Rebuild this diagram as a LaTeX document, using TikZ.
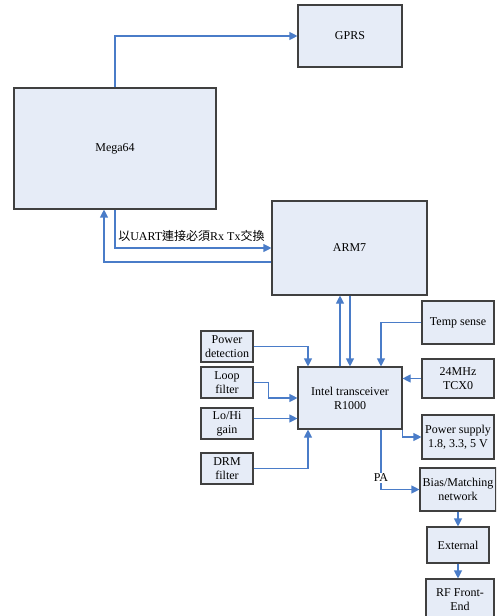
\documentclass[tikz,border=0pt]{standalone}
\usepackage{fontspec}
\setmainfont{Liberation Serif}
\newfontfamily\cjk{Noto Sans CJK TC}
\usetikzlibrary{arrows.meta,calc}
\definecolor{boxfill}{HTML}{E6ECF7}
\definecolor{arrowblue}{HTML}{4A7CC8}
\begin{document}
\begin{tikzpicture}[x=0.75pt,y=-0.75pt,
  box/.style={draw=black!75, fill=boxfill, line width=0.85pt, inner sep=0pt, align=center,
    font=\fontsize{9}{10.5}\selectfont},
  conn/.style={draw=arrowblue, line width=0.85pt, -{Triangle[length=6pt,width=6pt]}}]
\useasboundingbox (0,0) rectangle (496,616);
\begin{scope}
\clip (0,0) rectangle (496,616);
\node[box, minimum width=104*0.75pt, minimum height=62*0.75pt] (gprs) at (350,36) {GPRS};
\node[box, minimum width=202*0.75pt, minimum height=121*0.75pt] (mega) at (115,148.5) {Mega64};
\node[box, minimum width=155*0.75pt, minimum height=94*0.75pt] (arm) at (349.5,248) {ARM7};
\node[box, minimum width=104*0.75pt, minimum height=62*0.75pt] (intel) at (350,398) {Intel transceiver\\R1000};
\node[box, minimum width=72*0.75pt, minimum height=43*0.75pt] (temp) at (458,322.5) {Temp sense};
\node[box, minimum width=72*0.75pt, minimum height=39*0.75pt] (tcx) at (458,378.5) {24MHz\\TCX0};
\node[box, minimum width=72*0.75pt, minimum height=44*0.75pt] (ps) at (458,437) {Power supply\\1.8, 3.3, 5 V};
\node[box, minimum width=76*0.75pt, minimum height=43*0.75pt] (bias) at (458,489.5) {Bias/Matching\\network};
\node[box, minimum width=62*0.75pt, minimum height=36*0.75pt] (ext) at (458,545) {External};
\node[box, minimum width=68*0.75pt, minimum height=42*0.75pt] (rf) at (460,600) {RF Front-\\End};
\node[box, minimum width=52*0.75pt, minimum height=31*0.75pt] (pd) at (227,346.5) {Power\\detection};
\node[box, minimum width=52*0.75pt, minimum height=31*0.75pt] (lf) at (227,382.5) {Loop\\filter};
\node[box, minimum width=52*0.75pt, minimum height=31*0.75pt] (lh) at (227,423.5) {Lo/Hi\\gain};
\node[box, minimum width=52*0.75pt, minimum height=31*0.75pt] (drm) at (227,468.5) {DRM\\filter};

\draw[conn] (mega.north) |- (gprs.west);
\draw[conn] (mega.south) |- (arm.west);
\draw[conn] ($(arm.west)+(0,14)$) -| ($(mega.south)+(-11,0)$);
\node[font=\fontsize{9}{10.5}\selectfont, anchor=west, inner sep=0pt] (uart) at (118,236)
  {{\cjk 以}UART{\cjk 連接必須}Rx Tx{\cjk 交換}};

\draw[conn] ($(intel.north)+(-10,0)$) -- ($(arm.south)+(-9.5,0)$);
\draw[conn] ($(arm.south)+(0.5,0)$) -- (intel.north);
\draw[conn] (temp.west) -| ($(intel.north)+(31,0)$);
\draw[conn] (tcx.west) -- (tcx.west -| intel.east);
\draw[conn] (intel.south east) |- (ps.west);
\coordinate (pastart) at ($(intel.south)+(31,0)$);
\draw[conn] (pastart) |- (bias.west);
\node[fill=white, inner sep=1pt, font=\fontsize{9}{10.5}\selectfont] (pa) at (381,478) {PA};
\draw[conn] (bias.south) -- (ext.north);
\draw[conn] (ext.south) -- (ext.south |- rf.north);

\draw[conn] (pd.east) -| ($(intel.north)+(-42,0)$);
\draw[conn] (lf.east) -- ++(15,0) |- (intel.west);
\draw[conn] ($(lh.east)+(0,-5)$) -- ($(lh.east -| intel.west)+(0,-5)$);
\draw[conn] (drm.east) -| ($(intel.south)+(-42,0)$);
\end{scope}
\end{tikzpicture}
\end{document}
